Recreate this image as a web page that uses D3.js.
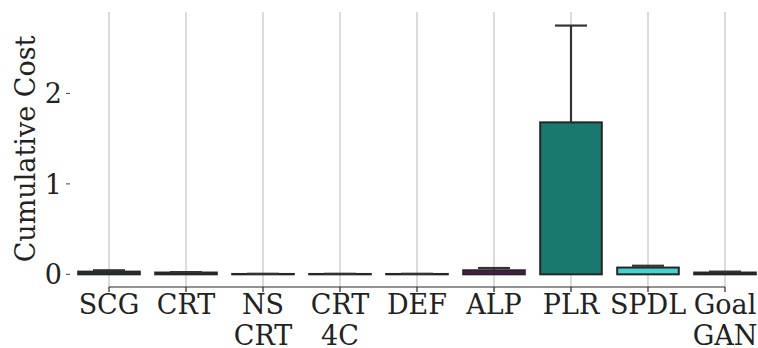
<!DOCTYPE html>
<html>
<head>
<meta charset="utf-8">
<script src="https://cdn.jsdelivr.net/npm/d3@7"></script>
<style>
  html, body { margin: 0; padding: 0; background: #fff; }
  svg { display: block; font-family: "DejaVu Serif", serif; }
</style>
</head>
<body>
<svg id="chart" width="758" height="348"></svg>
<script>
// Methods on the x axis (multi-line labels split on "\n")
const categories = ["SCG", "CRT", "NS\nCRT", "CRT\n4C", "DEF", "ALP", "PLR", "SPDL", "Goal\nGAN"];
// Mean cumulative cost per method
const meanCost = [0.03, 0.02, 0.004, 0.004, 0.004, 0.045, 1.68, 0.075, 0.02];
// Upper end of the error bar per method
const upperCost = [0.045, 0.025, 0.006, 0.006, 0.006, 0.07, 2.75, 0.095, 0.03];
// Bar fill colours
const fills = ["#1d3b2f", "#2a2a3a", "#30304a", "#2b2b40", "#2d2d44", "#4e1b4d", "#19796f", "#45d2d2", "#2a3a3a"];
// Y tick values
const yTicks = [0, 1, 2];

const svg = d3.select("#chart");
const plotLeft = 70.5, plotRight = 763.5, plotTop = 12, plotBottom = 287;
const fontSize = 27;

const x = d3.scaleBand()
  .domain(categories)
  .range([plotLeft, plotRight])
  .paddingInner(0.2)
  .paddingOuter(0.1);

const y = d3.scaleLinear()
  .domain([-0.14, 2.9])
  .range([plotBottom, plotTop]);

const cx = c => x(c) + x.bandwidth() / 2;

// vertical grid lines at each category
svg.append("g")
  .selectAll("line")
  .data(categories)
  .join("line")
  .attr("x1", d => cx(d)).attr("x2", d => cx(d))
  .attr("y1", plotTop).attr("y2", plotBottom)
  .attr("stroke", "#c4c4c4")
  .attr("stroke-width", 1.2);

// bars
const data = categories.map((c, i) => ({ c, v: meanCost[i], hi: upperCost[i], fill: fills[i] }));
svg.append("g")
  .selectAll("rect")
  .data(data)
  .join("rect")
  .attr("x", d => x(d.c))
  .attr("width", x.bandwidth())
  .attr("y", d => y(d.v))
  .attr("height", d => y(0) - y(d.v))
  .attr("fill", d => d.fill)
  .attr("stroke", "#262626")
  .attr("stroke-width", 2);

// error bars
const capHalf = 16;
const err = svg.append("g").attr("stroke", "#333").attr("stroke-width", 2.2);
err.selectAll("line.v")
  .data(data)
  .join("line")
  .attr("class", "v")
  .attr("x1", d => cx(d.c)).attr("x2", d => cx(d.c))
  .attr("y1", d => y(d.v)).attr("y2", d => y(d.hi));
err.selectAll("line.cap")
  .data(data)
  .join("line")
  .attr("class", "cap")
  .attr("x1", d => cx(d.c) - capHalf).attr("x2", d => cx(d.c) + capHalf)
  .attr("y1", d => y(d.hi)).attr("y2", d => y(d.hi));

// x axis (trimmed between first and last category)
const xg = svg.append("g");
xg.append("line")
  .attr("x1", cx(categories[0])).attr("x2", cx(categories[categories.length - 1]))
  .attr("y1", plotBottom).attr("y2", plotBottom)
  .attr("stroke", "#262626").attr("stroke-width", 1.2);
xg.selectAll("line.tick")
  .data(categories)
  .join("line")
  .attr("class", "tick")
  .attr("x1", d => cx(d)).attr("x2", d => cx(d))
  .attr("y1", plotBottom).attr("y2", plotBottom + 5)
  .attr("stroke", "#262626").attr("stroke-width", 1.2);
const xt = xg.selectAll("text")
  .data(categories)
  .join("text")
  .attr("text-anchor", "middle")
  .attr("font-size", fontSize)
  .attr("fill", "#222");
xt.each(function(d) {
  const t = d3.select(this);
  d.split("\n").forEach((line, i) => {
    t.append("tspan")
      .attr("x", cx(d))
      .attr("y", 314 + i * 31)
      .text(line);
  });
});

// y axis ticks and labels (no spine)
const yg = svg.append("g");
yg.selectAll("line")
  .data(yTicks)
  .join("line")
  .attr("x1", 66).attr("x2", 70)
  .attr("y1", d => y(d)).attr("y2", d => y(d))
  .attr("stroke", "#444").attr("stroke-width", 1);
yg.selectAll("text")
  .data(yTicks)
  .join("text")
  .attr("x", 62)
  .attr("y", d => y(d))
  .attr("dy", "0.36em")
  .attr("text-anchor", "end")
  .attr("font-size", fontSize)
  .attr("fill", "#222")
  .text(d => d);

// y axis title
svg.append("text")
  .attr("transform", "translate(35,149) rotate(-90)")
  .attr("text-anchor", "middle")
  .attr("font-size", fontSize)
  .attr("fill", "#222")
  .text("Cumulative Cost");
</script>
</body>
</html>
